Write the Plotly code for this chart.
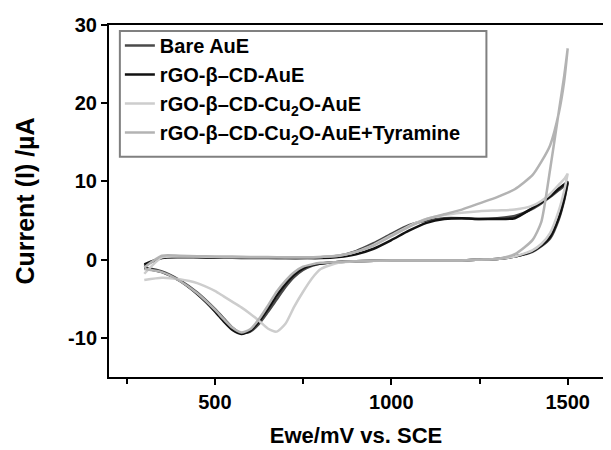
import plotly.graph_objects as go

# potential grids (mV vs SCE): forward scan 300 -> 1500, reverse 1500 -> 300
E_fwd = [300, 350, 400, 450, 500, 550, 600, 650, 700, 750, 800, 850, 900, 950,
         1000, 1050, 1100, 1150, 1200, 1250, 1300, 1350, 1400, 1425, 1450, 1475, 1490, 1500]
E_rev = [1500, 1490, 1475, 1450, 1425, 1400, 1350, 1300, 1250, 1200, 1100, 1000, 900, 850, 800,
         775, 750, 725, 700, 675, 650, 625, 600, 575, 550, 525, 500, 450, 400, 350, 300]

# currents (uA)
bare_fwd = [-0.8, 0.3, 0.4, 0.35, 0.3, 0.3, 0.25, 0.25, 0.2, 0.2, 0.3, 0.5, 1.1, 2.1,
            3.3, 4.4, 5.0, 5.3, 5.3, 5.2, 5.3, 5.6, 6.5, 7.2, 8.0, 8.9, 9.4, 9.8]
bare_rev = [9.8, 7.6, 5.2, 2.7, 1.7, 1.0, 0.4, 0.1, 0.0, -0.1, -0.1, -0.1, -0.2, -0.3, -0.5,
            -0.8, -1.3, -2.2, -3.5, -5.1, -6.7, -8.2, -9.2, -9.4, -8.7, -7.5, -6.3, -4.2, -2.6, -1.5, -1.0]

rgo_fwd = [-0.6, 0.2, 0.3, 0.3, 0.25, 0.25, 0.2, 0.2, 0.2, 0.2, 0.2, 0.35, 0.7, 1.4,
           2.5, 3.7, 4.7, 5.2, 5.3, 5.2, 5.2, 5.3, 6.6, 7.3, 8.1, 9.1, 9.6, 10.0]
rgo_rev = [10.0, 7.8, 5.4, 2.9, 1.8, 1.1, 0.4, 0.1, 0.0, -0.1, -0.1, -0.1, -0.2, -0.3, -0.5,
           -0.7, -1.1, -1.9, -3.1, -4.6, -6.3, -7.9, -9.1, -9.5, -9.0, -7.9, -6.6, -4.4, -2.7, -1.6, -1.1]

cu2o_fwd = [-1.8, 0.3, 0.4, 0.4, 0.35, 0.3, 0.3, 0.3, 0.3, 0.3, 0.35, 0.5, 1.0, 1.9,
            3.1, 4.3, 5.2, 5.7, 6.0, 6.2, 6.3, 6.4, 6.9, 7.5, 8.4, 9.6, 10.3, 11.0]
cu2o_rev = [11.0, 8.8, 6.3, 3.4, 2.0, 1.2, 0.4, 0.1, 0.0, -0.1, -0.1, -0.1, -0.2, -0.4, -1.2,
            -2.4, -4.1, -6.0, -8.2, -9.2, -8.8, -7.8, -6.9, -6.1, -5.4, -4.7, -4.0, -3.0, -2.5, -2.3, -2.6]

tyr_fwd = [-1.0, 0.5, 0.5, 0.45, 0.4, 0.4, 0.35, 0.35, 0.3, 0.3, 0.35, 0.5, 1.0, 1.8,
           3.0, 4.2, 5.2, 5.8, 6.4, 7.2, 8.0, 9.0, 10.8, 12.5, 14.6, 18.8, 22.8, 27.0]
tyr_rev = [27.0, 23.5, 19.0, 11.5, 4.8, 2.5, 0.7, 0.1, 0.0, -0.1, -0.1, -0.1, -0.2, -0.3, -0.4,
           -0.6, -0.9, -1.6, -2.7, -4.1, -5.9, -7.6, -8.9, -9.3, -8.7, -7.6, -6.4, -4.3, -2.7, -1.6, -1.2]

names = ["Bare AuE", "rGO-β–CD-AuE", "rGO-β–CD-Cu<sub>2</sub>O-AuE",
         "rGO-β–CD-Cu<sub>2</sub>O-AuE+Tyramine"]
colors = ["#4a4a4a", "#111111", "#cdcdcd", "#b3b3b3"]
series = [(bare_fwd, bare_rev), (rgo_fwd, rgo_rev), (cu2o_fwd, cu2o_rev), (tyr_fwd, tyr_rev)]

y_ticks = [-10, 0, 10, 20, 30]
y_labels = ["-10", "0", "10", "20", "30"]

fig = go.Figure()
for name, color, (fwd, rev) in zip(names, colors, series):
    fig.add_trace(go.Scatter(x=E_fwd + E_rev, y=fwd + rev, mode="lines", name="<b>" + name + "</b>",
                             line=dict(color=color, width=2.5, shape="spline", smoothing=0.6)))

font = "Liberation Sans, Arial, sans-serif"
axis_common = dict(showline=True, linecolor="black", linewidth=2, mirror=True,
                   ticks="outside", tickwidth=2, ticklen=6, tickcolor="black",
                   showgrid=False, zeroline=False,
                   tickfont=dict(family=font, size=20, color="black"))

# legend frame drawn as a shape so it can be wider than the legend text
fig.add_shape(type="rect", xref="paper", yref="paper",
              x0=0.022, x1=0.764, y0=0.626, y1=0.983,
              line=dict(color="#808080", width=2), fillcolor="rgba(0,0,0,0)")

# page body has an 8px margin, so the figure is 8px smaller and margins shifted
fig.update_layout(
    width=603, height=442,
    paper_bgcolor="white", plot_bgcolor="white",
    margin=dict(l=101, r=6, t=14, b=72),
    font=dict(family=font, color="black"),
    xaxis=dict(range=[200, 1600], tick0=0, dtick=500,
               tickprefix="<b>", ticksuffix="</b>",
               minor=dict(dtick=250, tick0=0, ticks="outside", ticklen=5, tickwidth=2, tickcolor="black"),
               title=dict(text="<b>Ewe/mV vs. SCE</b>", font=dict(size=22), standoff=16),
               **axis_common),
    yaxis=dict(range=[-15, 30], tickmode="array", tickvals=y_ticks,
               ticktext=["<b>" + t + "</b>" for t in y_labels],
               title=dict(text="<b>Current (I) /µA</b>", font=dict(size=25), standoff=26),
               **axis_common),
    legend=dict(x=0.022, y=0.997, xanchor="left", yanchor="top",
                borderwidth=0, bgcolor="rgba(255,255,255,0)",
                font=dict(family=font, size=20, color="black"), tracegroupgap=0),
)

fig.write_html("out.html")
